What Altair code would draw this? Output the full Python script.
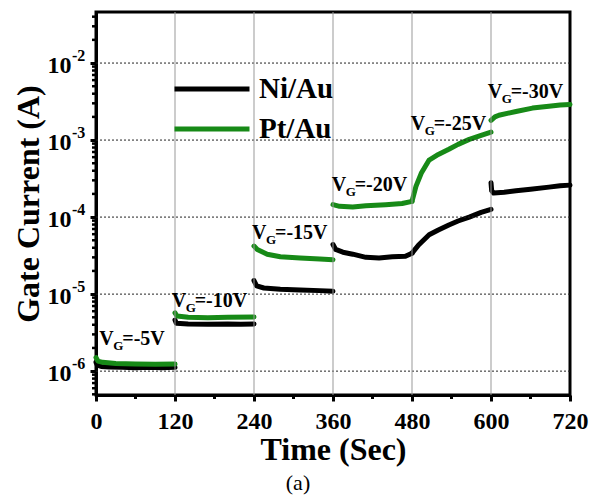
import altair as alt
import pandas as pd

# ---------------- data ----------------
ni_seg = [1]*9 + [2]*7 + [3]*7 + [4]*9 + [5]*9 + [6]*9
ni_t = [0, 2, 8, 20, 40, 60, 80, 100, 120,
        120, 122, 140, 170, 200, 220, 240,
        240, 244, 255, 280, 310, 340, 360,
        360, 364, 375, 390, 410, 430, 450, 470, 480,
        480, 490, 506, 520, 536, 550, 567, 585, 600,
        600, 601, 604, 620, 638, 660, 688, 705, 720]
ni_I = [1.30e-6, 1.20e-6, 1.15e-6, 1.13e-6, 1.12e-6, 1.11e-6, 1.12e-6, 1.11e-6, 1.12e-6,
        4.6e-6, 4.2e-6, 4.1e-6, 4.05e-6, 4.1e-6, 4.05e-6, 4.1e-6,
        1.5e-5, 1.28e-5, 1.2e-5, 1.16e-5, 1.13e-5, 1.11e-5, 1.09e-5,
        4.4e-5, 3.8e-5, 3.5e-5, 3.3e-5, 3.0e-5, 2.95e-5, 3.05e-5, 3.1e-5, 3.4e-5,
        3.4e-5, 4.35e-5, 5.9e-5, 6.8e-5, 7.9e-5, 8.9e-5, 1.0e-4, 1.15e-4, 1.26e-4,
        2.8e-4, 2.2e-4, 2.05e-4, 2.1e-4, 2.2e-4, 2.3e-4, 2.45e-4, 2.55e-4, 2.6e-4]

pt_seg = [1]*7 + [2]*6 + [3]*7 + [4]*7 + [5]*10 + [6]*8
pt_t = [0, 3, 10, 30, 60, 90, 120,
        120, 123, 140, 170, 200, 240,
        240, 245, 260, 280, 310, 340, 360,
        360, 370, 390, 410, 440, 465, 480,
        480, 486, 494, 506, 520, 536, 550, 567, 585, 600,
        600, 606, 612, 638, 663, 688, 705, 720]
pt_I = [1.5e-6, 1.35e-6, 1.3e-6, 1.26e-6, 1.24e-6, 1.23e-6, 1.24e-6,
        5.7e-6, 5.2e-6, 5.0e-6, 4.95e-6, 5.0e-6, 5.05e-6,
        4.2e-5, 3.8e-5, 3.3e-5, 3.05e-5, 2.95e-5, 2.85e-5, 2.8e-5,
        1.45e-4, 1.38e-4, 1.35e-4, 1.4e-4, 1.45e-4, 1.5e-4, 1.6e-4,
        1.6e-4, 2.5e-4, 3.7e-4, 5.5e-4, 6.5e-4, 7.6e-4, 8.8e-4, 1.02e-3, 1.15e-3, 1.27e-3,
        1.8e-3, 2.0e-3, 2.1e-3, 2.35e-3, 2.6e-3, 2.75e-3, 2.85e-3, 2.9e-3]

series_names = ["Ni/Au", "Pt/Au"]
series_colors = ["#000000", "#178a17"]

ann_t = [5, 115, 237, 358, 478, 595]
ann_I = [2.19e-6, 6.76e-6, 5.13e-5, 2.19e-4, 1.35e-3, 3.55e-3]
ann_txt = ["=-5V", "=-10V", "=-15V", "=-20V", "=-25V", "=-30V"]

major_y = [1e-6, 1e-5, 1e-4, 1e-3, 1e-2]
major_exp = ["-6", "-5", "-4", "-3", "-2"]
minor_y = [m * 10.0**k for k in range(-7, -1) for m in range(2, 10)
           if 4.9e-7 <= m * 10.0**k <= 4.6e-2]
major_x = [0, 120, 240, 360, 480, 600, 720]
grid_x = [120, 240, 360, 480, 600]
minor_x = [60, 180, 300, 420, 540, 660]

# ---------------- tables ----------------
df = pd.concat([
    pd.DataFrame({"t": ni_t, "I": ni_I, "seg": ni_seg, "series": series_names[0]}),
    pd.DataFrame({"t": pt_t, "I": pt_I, "seg": pt_seg, "series": series_names[1]}),
])
ann = pd.DataFrame({"t": ann_t, "I": ann_I, "txt": ann_txt, "v": "V", "g": "G"})
exps = pd.DataFrame({"I": major_y, "e": major_exp})
minx = pd.DataFrame({"t": minor_x})
miny = pd.DataFrame({"I": minor_y})
gx = pd.DataFrame({"t": grid_x})
gy = pd.DataFrame({"I": major_y})

FONT = "Liberation Serif"
W, H = 474, 383
xscale = alt.Scale(domain=[0, 720], nice=False, zero=False)
yscale = alt.Scale(type="log", domain=[4.9e-7, 4.6e-2], nice=False)

x_axis = alt.Axis(
    values=major_x, grid=False,
    tickSize=6, tickWidth=3, tickColor="black", domainWidth=3, domainColor="black",
    labelFont=FONT, labelFontSize=24, labelFontWeight="bold", labelColor="black",
    labelPadding=8, labelFlush=False,
    title="Time (Sec)", titleFont=FONT, titleFontSize=32, titleFontWeight="bold",
    titleColor="black", titlePadding=1,
)
y_axis = alt.Axis(
    values=major_y, grid=False,
    labelExpr="'10'",
    tickSize=6, tickWidth=3, tickColor="black", domainWidth=3, domainColor="black",
    labelFont=FONT, labelFontSize=24, labelFontWeight="bold", labelColor="black",
    labelPadding=19, labelOffset=2, labelFlush=False,
    title="Gate Current (A)", titleFont=FONT, titleFontSize=32, titleFontWeight="bold",
    titleColor="black", titlePadding=2,
)
X = alt.X("t:Q", scale=xscale, axis=x_axis)
Y = alt.Y("I:Q", scale=yscale, axis=y_axis)
cscale = alt.Scale(domain=series_names, range=series_colors)
legend = alt.Legend(
    title=None, orient="none", legendX=76, legendY=59, padding=0,
    symbolType="stroke", symbolSize=5625, symbolStrokeWidth=5,
    clipHeight=36, rowPadding=4, labelOffset=7,
    labelFont=FONT, labelFontSize=29, labelFontWeight="bold", labelColor="black",
)

# grid lines at the major ticks
grid_h = alt.Chart(gy).mark_rule(color="#222222", strokeWidth=1, strokeDash=[2, 2]).encode(y=Y)
grid_v = alt.Chart(gx).mark_rule(color="#999999", strokeWidth=1).encode(x=X)

base = alt.Chart(df)
line_ni = base.transform_filter(alt.datum.series == series_names[0]).mark_line(
    strokeWidth=5, strokeJoin="round", strokeCap="round"
).encode(x=X, y=Y, color=alt.Color("series:N", scale=cscale, legend=legend), detail="seg:N")
line_pt = base.transform_filter(alt.datum.series == series_names[1]).mark_line(
    strokeWidth=5, strokeJoin="round", strokeCap="round"
).encode(x=X, y=Y, color=alt.Color("series:N", scale=cscale, legend=legend), detail="seg:N")

abase = alt.Chart(ann).encode(x=X, y=Y)
txt_kw = dict(align="left", baseline="alphabetic", font=FONT, fontWeight="bold", color="black")
ann_v = abase.mark_text(fontSize=20, **txt_kw).encode(text="v:N")
ann_g = abase.mark_text(fontSize=13, dx=14, dy=5, **txt_kw).encode(text="g:N")
ann_r = abase.mark_text(fontSize=20, dx=23, **txt_kw).encode(text="txt:N")

exp_layer = alt.Chart(exps).mark_text(fontSize=16, dy=-2, **txt_kw).encode(
    x=alt.value(-24), y=Y, text="e:N",
)

# minor tick marks (outside the frame)
minor_x_ticks = alt.Chart(minx).mark_rule(color="black", strokeWidth=3).encode(
    x=X, y=alt.value(H), y2=alt.value(H + 4),
)
minor_y_ticks = alt.Chart(miny).mark_rule(color="black", strokeWidth=2.5).encode(
    y=Y, x=alt.value(0), x2=alt.value(-4),
)

chart = alt.layer(
    line_ni, line_pt, grid_h, grid_v, ann_v, ann_g, ann_r, exp_layer,
    minor_x_ticks, minor_y_ticks
).properties(
    width=W, height=H,
    padding={"left": 88, "top": 4, "right": 20, "bottom": 103},
    autosize=alt.AutoSizeParams(type="none"),
    background="white",
    title=alt.TitleParams("(a)", orient="bottom", anchor="middle", frame="bounds",
                          font=FONT, fontSize=22, fontWeight="normal", color="black",
                          offset=8, dx=-2),
).configure_view(stroke="black", strokeWidth=3, clip=False)

chart.save("out.html", embed_options={"renderer": "svg", "actions": False})
